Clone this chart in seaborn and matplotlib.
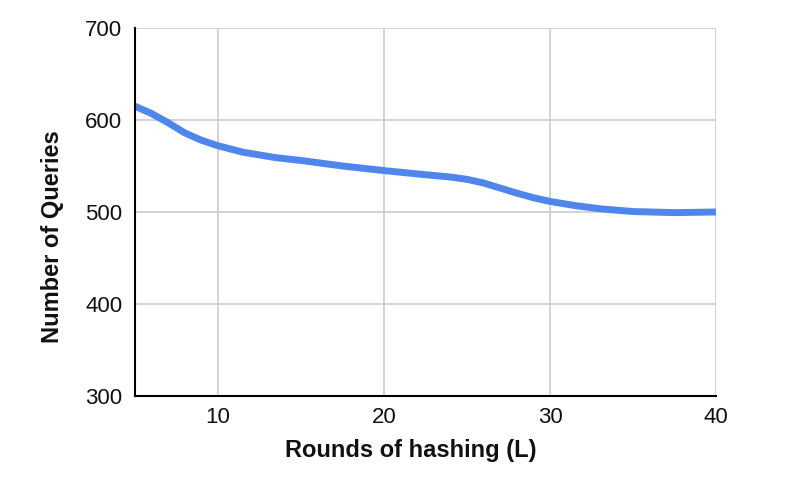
import pandas as pd
import matplotlib
matplotlib.use("Agg")
import matplotlib.pyplot as plt
import seaborn as sns

# values
rounds = [5, 6, 7, 8, 9, 10, 11.5, 13.5, 15, 17.5, 20, 22.5, 24, 25, 26,
          27, 28, 29, 30, 31.5, 33, 35, 37.5, 40]
queries = [615, 607, 597, 586, 578, 572, 565, 559, 556, 550, 545, 540.5, 538, 535.5, 531.5,
           526, 520.5, 515.5, 511.5, 507, 503.5, 500.5, 499.3, 500]
x_ticks = [10, 20, 30, 40]
y_ticks = [300, 400, 500, 600, 700]

df = pd.DataFrame({"Rounds": rounds, "Queries": queries})

sns.set_style("white")
plt.rcParams["font.family"] = ["Liberation Sans", "DejaVu Sans"]

fig = plt.figure(figsize=(7.87, 4.91), dpi=100)
ax = fig.add_axes([0.1715, 0.1935, 0.7383, 0.7495])

sns.lineplot(data=df, x="Rounds", y="Queries", color="#4f86ec", linewidth=5,
             solid_capstyle="butt", solid_joinstyle="round", ax=ax)

ax.set_xlim(5, 40)
ax.set_ylim(300, 700)
ax.set_xticks(x_ticks)
ax.set_yticks(y_ticks)
ax.grid(True, color="#cccccc", linewidth=1.2)
ax.set_axisbelow(True)
for s in ["top", "right"]:
    ax.spines[s].set_visible(False)
for s in ["left", "bottom"]:
    ax.spines[s].set_color("black")
    ax.spines[s].set_linewidth(1.5)
ax.tick_params(length=0, labelsize=16, colors="#111111")
ax.tick_params(axis="y", pad=9)
ax.tick_params(axis="x", pad=8)
ax.set_xlabel("Rounds of hashing (L)", fontsize=17, fontweight="bold", color="#111111")
ax.set_ylabel("Number of Queries", fontsize=17, fontweight="bold", color="#111111")
ax.xaxis.set_label_coords(0.475, -0.118)
ax.yaxis.set_label_coords(-0.123, 0.433)

fig.savefig("out.png", dpi=100)
